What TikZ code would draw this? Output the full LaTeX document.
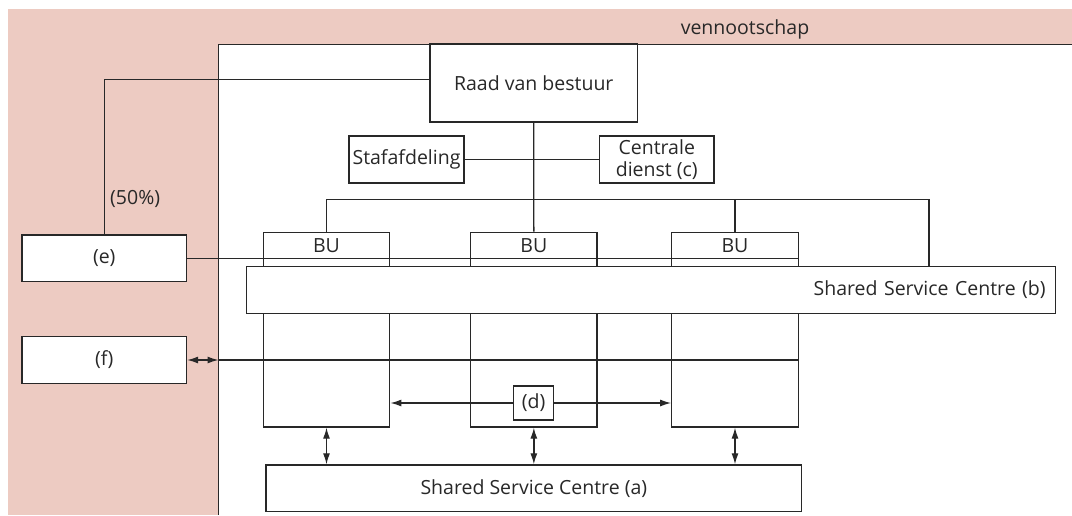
\documentclass[tikz,border=0pt]{standalone}
\usepackage{fontspec}
\setmainfont{Open Sans}
\usetikzlibrary{arrows.meta}
\definecolor{pinkbg}{RGB}{237,203,194}
\definecolor{ink}{RGB}{40,40,40}
\begin{document}
\begin{tikzpicture}[x=1pt,y=-1pt,
  every node/.style={font=\fontsize{19.5}{22.5}\selectfont, text=ink},
  box/.style={draw=ink, line width=1.3pt, fill=white, rectangle, inner sep=0pt},
  conn/.style={draw=ink, line width=1.3pt},
  arr/.style={conn, {Latex[length=11pt,width=7pt]}-{Latex[length=11pt,width=7pt]}},
  rarr/.style={conn, -{Latex[length=11pt,width=7pt]}},
  bucol/.style={box, minimum width=126.5pt, minimum height=194.7pt,
    label={[anchor=center, yshift=-14.4pt]north:BU}},
  wide/.style={box, minimum height=46.7pt}]
\useasboundingbox (0,0) rectangle (1072,515);
% background regions
\fill[pinkbg] (8.3,9) rectangle (1072,515);
\fill[white] (218.5,44.3) rectangle (1072,515);
\coordinate (wl) at (218.5,44.3);
\coordinate (wbot) at (218.5,515);
\coordinate (wr) at (1072,44.3);
\draw[conn] (wbot) -- (wl) -- (wr);
\node (venn) at (745,29) {vennootschap};
% nodes
\node[box, minimum width=207.5pt, minimum height=78pt] (raad) at (533.75,83) {Raad van bestuur};
\node[box, minimum width=115pt, minimum height=47pt] (staf) at (406.5,159.5) {Stafafdeling};
\node[box, minimum width=114.5pt, minimum height=47pt, align=center] (cent) at (656.75,159.5) {Centrale\\dienst (c)};
\node[bucol] (bu1) at (326.5,329.65) {};
\node[bucol] (bu2) at (533.85,329.65) {};
\node[bucol] (bu3) at (735,329.65) {};
\node[wide, minimum width=164.5pt] (e) at (104.25,258.3) {(e)};
\node[wide, minimum width=164.5pt] (f) at (104.25,360) {(f)};
\node[anchor=west, inner sep=0pt] (pct) at (110,199) {(50\%)};
% connectors
\coordinate (bus) at (929,199.3);
\draw[conn] (raad.south) -- (bu2.north);
\draw[conn] (staf.east) -- (cent.west);
\draw[conn] (bu3.north) -- (bu3.north |- bus);
\draw[conn] ([yshift=3.7pt]raad.west) -| (e.north);
\draw[conn] (e.east) -- (e.east -| bu3.east);
\node[wide, minimum width=809pt, text width=789pt, align=right, inner xsep=10pt] (sscb) at (651.2,290) {Shared Service Centre (b)};
\draw[conn] (bu1.north) |- (bus) -- (bus |- sscb.north);
\draw[arr] (f.east) -- (f.east -| wl);
\draw[conn] (f.east -| wl) -- (f.east -| bu3.east);
\node[box, minimum width=39.7pt, minimum height=34pt] (d) at (533.65,403) {(d)};
\draw[rarr] (d.west) -- (d.west -| bu1.east);
\draw[rarr] (d.east) -- (d.east -| bu3.west);
\node[wide, minimum width=535.7pt] (ssca) at (533.85,488.3) {Shared Service Centre (a)};
\draw[arr] (bu1.south) -- (bu1.south |- ssca.north);
\draw[arr] (bu2.south) -- (bu2.south |- ssca.north);
\draw[arr] (bu3.south) -- (bu3.south |- ssca.north);
\end{tikzpicture}
\end{document}
